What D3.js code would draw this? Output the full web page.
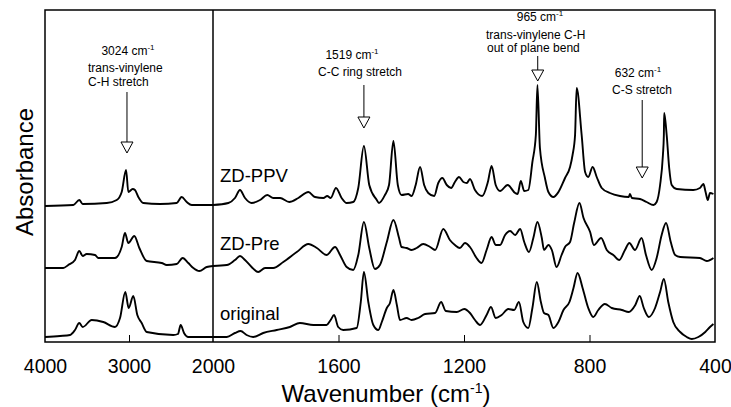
<!DOCTYPE html>
<html>
<head>
<meta charset="utf-8">
<script src="https://cdn.jsdelivr.net/npm/d3@7"></script>
<style>
  body { margin: 0; background: #fff; }
  text { font-family: "Liberation Sans", Arial, Helvetica, sans-serif; fill: #000; }
</style>
</head>
<body>
<div id="chart"></div>
<script>
// Data: [wavenumber (cm-1), absorbance (offset, arb. units)]
const zdPPV = [
  [4000,136],[3663,137],[3592,142],[3551,138],[3265,139],[3146,142],[3087,150],[3035,172],
  [3008,150],[2956,153],[2929,152],[2889,145],[2830,139],[2631,138],[2432,139],[2373,145],
  [2313,140],[2253,137],[2000,137],
  [1951,139],[1930,144],[1914,152],[1898,144],[1877,139],[1850,142],[1827,147],[1808,144],
  [1786,144],[1757,140],[1728,144],[1696,150],[1675,145],[1648,144],[1636,146],[1625,144],
  [1608,154],[1590,144],[1574,139],[1553,140],[1537,154],[1519,196],[1502,157],[1478,142],
  [1471,139],[1452,147],[1439,157],[1425,201],[1411,157],[1399,147],[1378,148],[1367,146],
  [1354,157],[1340,175],[1327,157],[1314,149],[1295,146],[1282,159],[1269,164],[1255,157],
  [1241,154],[1229,160],[1216,165],[1202,160],[1191,159],[1181,163],[1165,152],[1142,146],
  [1124,160],[1112,176],[1099,157],[1085,151],[1061,157],[1037,149],[1029,148],[1019,161],
  [1008,151],[995,152],[982,180],[971,207],[966,257],[958,194],[942,164],[931,150],[915,145],
  [899,150],[878,164],[862,175],[854,187],[846,207],[841,254],[825,207],[814,170],[804,165],
  [790,175],[777,165],[761,154],[735,149],[703,146],[675,145],[671,148],[665,144],[639,143],
  [618,140],[596,137],[586,140],[575,157],[566,187],[563,207],[562,229],[554,207],[546,174],
  [538,157],[522,153],[469,152],[448,154],[437,158],[430,150],[423,142],[416,149],[405,148]
]

const zdPre = [
  [4000,74],[3782,74],[3723,77],[3643,82],[3592,91],[3551,86],[3504,88],[3405,87],[3365,84],
  [3167,84],[3087,95],[3048,109],[3008,99],[2937,106],[2877,94],[2789,81],[2611,79],[2551,77],
  [2432,78],[2361,84],[2294,79],[2234,74],[2163,71],[2075,75],[2000,76],
  [1956,77],[1930,82],[1914,86],[1898,82],[1877,75],[1856,70],[1834,74],[1808,74],[1776,80],
  [1733,90],[1696,98],[1669,94],[1638,87],[1611,95],[1595,87],[1574,75],[1553,72],[1537,87],
  [1519,120],[1502,94],[1484,73],[1468,77],[1446,100],[1425,122],[1407,104],[1399,95],
  [1383,94],[1367,92],[1351,94],[1330,98],[1308,95],[1292,92],[1266,113],[1245,102],[1229,97],
  [1213,94],[1197,99],[1181,95],[1160,84],[1144,79],[1128,92],[1112,105],[1099,97],[1085,97],
  [1069,107],[1053,111],[1037,107],[1021,113],[1008,100],[993,90],[979,104],[966,120],
  [952,104],[945,92],[931,97],[920,92],[905,75],[889,87],[878,95],[862,100],[849,119],
  [832,139],[819,124],[798,110],[786,97],[763,104],[745,92],[724,87],[705,82],[687,92],
  [673,99],[655,92],[634,104],[620,87],[602,72],[586,84],[570,107],[556,119],[541,100],
  [527,87],[511,85],[448,84],[426,81],[405,84]
]

const original = [
  [4000,5],[3821,6],[3702,7],[3643,12],[3592,19],[3551,15],[3444,22],[3306,20],[3167,15],
  [3107,24],[3044,50],[3004,34],[2949,46],[2901,27],[2849,19],[2789,10],[2473,7],[2417,8],
  [2385,17],[2345,9],[2294,5],[2000,5],
  [1956,5],[1930,9],[1912,11],[1893,7],[1872,5],[1840,9],[1797,12],[1755,15],[1723,19],
  [1680,17],[1638,17],[1625,22],[1614,27],[1601,15],[1585,12],[1542,14],[1529,40],[1519,70],
  [1505,40],[1489,17],[1473,12],[1462,20],[1446,34],[1436,39],[1425,52],[1414,37],[1404,22],
  [1383,24],[1367,22],[1346,24],[1324,28],[1292,29],[1273,40],[1258,31],[1223,30],[1199,33],
  [1181,29],[1165,22],[1149,17],[1128,27],[1114,35],[1099,24],[1080,27],[1059,33],[1040,32],
  [1025,40],[1011,20],[995,14],[982,34],[968,60],[955,40],[945,29],[931,27],[915,14],[899,20],
  [883,32],[864,40],[851,54],[838,69],[822,54],[804,34],[788,25],[772,32],[751,38],[729,34],
  [697,32],[675,30],[654,37],[640,46],[627,34],[611,25],[591,34],[575,50],[563,63],[549,40],
  [533,20],[511,10],[490,5],[474,3],[453,5],[431,10],[416,15],[405,18]
]

const seriesNames = ['ZD-PPV', 'ZD-Pre', 'original']
const leftTicks = [4000, 3000, 2000]
const rightTicks = [1600, 1200, 800, 400]
const peaks = [
  { wn: 3024, panel: 'left', lines: ['3024 cm', 'trans-vinylene', 'C-H stretch'] },
  { wn: 1519, panel: 'right', lines: ['1519 cm', 'C-C ring stretch'] },
  { wn: 965, panel: 'right', lines: ['965 cm', 'trans-vinylene C-H', 'out of plane bend'] },
  { wn: 632, panel: 'right', lines: ['632 cm', 'C-S stretch'] }
]

// Dimensions
const dims = { width: 731, height: 407, left: 45, split: 213, right: 715, top: 10, bottom: 342 }

const svg = d3.select('#chart').append('svg')
  .attr('width', dims.width)
  .attr('height', dims.height)

const xL = d3.scaleLinear().domain([4000, 2000]).range([dims.left, dims.split])
const xR = d3.scaleLinear().domain([2000, 400]).range([dims.split, dims.right])
const y = d3.scaleLinear().domain([0, 332]).range([dims.bottom, dims.top])

// clip paths
const defs = svg.append('defs')
defs.append('clipPath').attr('id', 'clipL').append('rect')
  .attr('x', dims.left).attr('y', dims.top)
  .attr('width', dims.split - dims.left).attr('height', dims.bottom - dims.top)
defs.append('clipPath').attr('id', 'clipR').append('rect')
  .attr('x', dims.split).attr('y', dims.top)
  .attr('width', dims.right - dims.split).attr('height', dims.bottom - dims.top)

const lineL = d3.line().x(d => xL(d[0])).y(d => y(d[1])).curve(d3.curveMonotoneX)
const lineR = d3.line().x(d => xR(d[0])).y(d => y(d[1])).curve(d3.curveMonotoneX)

const allSeries = [zdPPV, zdPre, original]
allSeries.forEach(s => {
  svg.append('path')
    .datum(s.filter(d => d[0] >= 2000))
    .attr('d', lineL)
    .attr('clip-path', 'url(#clipL)')
    .attr('fill', 'none').attr('stroke', '#000').attr('stroke-width', 1.9)
    .attr('stroke-linejoin', 'round')
  svg.append('path')
    .datum(s.filter(d => d[0] <= 2000))
    .attr('d', lineR)
    .attr('clip-path', 'url(#clipR)')
    .attr('fill', 'none').attr('stroke', '#000').attr('stroke-width', 1.9)
    .attr('stroke-linejoin', 'round')
})

// frame
svg.append('rect')
  .attr('x', dims.left).attr('y', dims.top)
  .attr('width', dims.right - dims.left).attr('height', dims.bottom - dims.top)
  .attr('fill', 'none').attr('stroke', '#000').attr('stroke-width', 1.5)
svg.append('line')
  .attr('x1', dims.split).attr('x2', dims.split).attr('y1', dims.top).attr('y2', dims.bottom)
  .attr('stroke', '#000').attr('stroke-width', 1.5)

// axes (ticks inside, labels below)
const axL = d3.axisBottom(xL).tickValues(leftTicks).tickSize(-7).tickPadding(17).tickFormat(d3.format('d'))
const axR = d3.axisBottom(xR).tickValues(rightTicks).tickSize(-7).tickPadding(17).tickFormat(d3.format('d'))
;[axL, axR].forEach(ax => {
  const g = svg.append('g').attr('transform', `translate(0,${dims.bottom})`).call(ax)
  g.select('.domain').remove()
  g.selectAll('.tick line').attr('stroke', '#000').attr('stroke-width', 1)
  g.selectAll('.tick text')
    .style('font-family', '"Liberation Sans", Arial, sans-serif')
    .style('font-size', '19.5px')
    .attr('fill', '#000')
})
// no inner tick marks at frame edges
svg.selectAll('.tick').filter(d => d === 4000 || d === 2000 || d === 400).select('line').remove()

// axis titles
const xt = svg.append('text')
  .attr('x', 386).attr('y', 402)
  .attr('text-anchor', 'middle')
  .style('font-size', '24px')
xt.append('tspan').text('Wavenumber (cm')
xt.append('tspan').attr('dy', -9).style('font-size', '14px').text('-1')
xt.append('tspan').attr('dy', 9).text(')')

svg.append('text')
  .attr('transform', `translate(33,172) rotate(-90)`)
  .attr('text-anchor', 'middle')
  .style('font-size', '24px')
  .text('Absorbance')

// series labels
const labelY = [182, 250, 320]
seriesNames.forEach((n, i) => {
  svg.append('text')
    .attr('x', 220).attr('y', labelY[i])
    .style('font-size', '18.5px')
    .text(n)
})

// peak annotations
const annoLayout = [
  { lines: [[128, 55, 'middle'], [88, 72, 'start'], [88, 86, 'start']], y1: 92, y2: 142 },
  { lines: [[352, 59, 'middle'], [360, 76, 'middle']], y1: 85, y2: 117 },
  { lines: [[540, 21, 'middle'], [486, 39, 'start'], [487, 52, 'start']], y1: 56, y2: 70 },
  { lines: [[638, 77, 'middle'], [642, 94, 'middle']], y1: 100, y2: 167 }
]

peaks.forEach((p, i) => {
  const L = annoLayout[i]
  const ax = p.panel === 'left' ? xL(p.wn) : xR(p.wn)
  p.lines.forEach((t, j) => {
    const [tx, ty, anchor] = L.lines[j]
    const txt = svg.append('text')
      .attr('x', tx).attr('y', ty)
      .attr('text-anchor', anchor)
      .style('font-size', '12px')
    txt.append('tspan').text(t)
    if (j === 0) txt.append('tspan').attr('dy', -5).style('font-size', '8px').text('-1')
  })
  svg.append('line')
    .attr('x1', ax).attr('x2', ax).attr('y1', L.y1).attr('y2', L.y2)
    .attr('stroke', '#000').attr('stroke-width', 1)
  svg.append('path')
    .attr('d', `M${ax - 6},${L.y2} L${ax + 6},${L.y2} L${ax},${L.y2 + 11} Z`)
    .attr('fill', '#fff').attr('stroke', '#000').attr('stroke-width', 1)
})
</script>
</body>
</html>
